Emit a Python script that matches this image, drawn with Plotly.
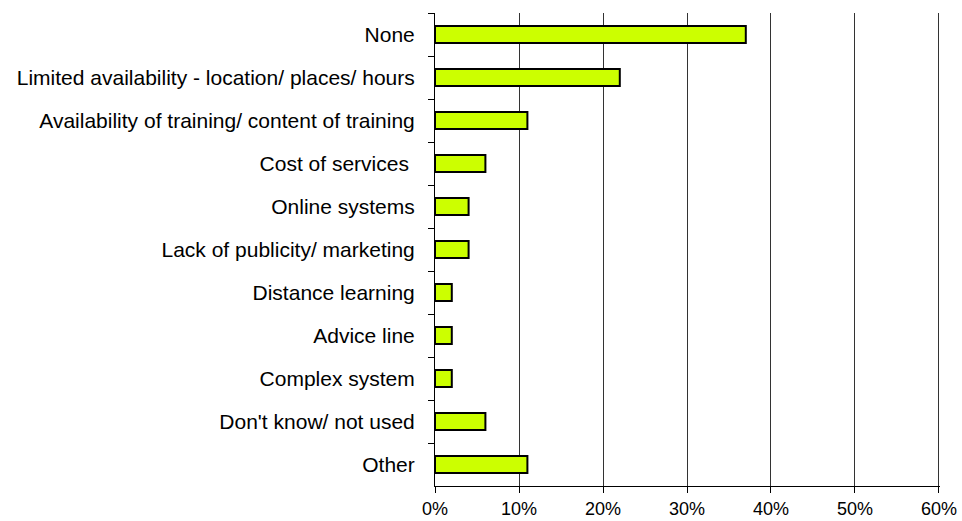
import plotly.graph_objects as go

# Reported barriers, share of respondents (%)
categories = [
    "None",
    "Limited availability - location/ places/ hours",
    "Availability of training/ content of training",
    "Cost of services\u00a0",
    "Online systems",
    "Lack of publicity/ marketing",
    "Distance learning",
    "Advice line",
    "Complex system",
    "Don't know/ not used",
    "Other",
]
shares = [37, 22, 11, 6, 4, 4, 2, 2, 2, 6, 11]

x_ticks = [0, 10, 20, 30, 40, 50, 60]
x_tick_labels = [f"{v}%" for v in x_ticks]

fig = go.Figure(
    go.Bar(
        x=shares,
        y=categories,
        orientation="h",
        width=0.4,
        marker=dict(color="#CCFF00", line=dict(color="#000000", width=2)),
        hoverinfo="x+y",
    )
)

font_family = "Liberation Sans, Arial, sans-serif"

fig.update_layout(
    width=962,
    height=521,
    margin=dict(l=435, r=22, t=13, b=35),
    paper_bgcolor="white",
    plot_bgcolor="white",
    showlegend=False,
    font=dict(family=font_family, color="#000000"),
    xaxis=dict(
        # a hair past 60 so the 60% gridline is still drawn at the edge
        range=[0, 60.12],
        tickvals=x_ticks,
        ticktext=x_tick_labels,
        showgrid=True,
        gridcolor="#333333",
        gridwidth=1,
        zeroline=False,
        showline=True,
        linecolor="#000000",
        linewidth=1,
        ticks="outside",
        ticklen=6,
        tickcolor="#000000",
        tickfont=dict(size=18, family=font_family, color="#000000"),
        automargin=False,
        fixedrange=True,
    ),
    yaxis=dict(
        categoryorder="array",
        categoryarray=categories,
        autorange="reversed",
        showgrid=False,
        zeroline=False,
        showline=True,
        linecolor="#000000",
        linewidth=1,
        ticks="outside",
        tickson="boundaries",
        ticklen=6,
        tickcolor="#000000",
        ticklabelstandoff=15,
        tickfont=dict(size=21, family=font_family, color="#000000"),
        automargin=False,
        fixedrange=True,
    ),
)

fig.write_html("out.html")
